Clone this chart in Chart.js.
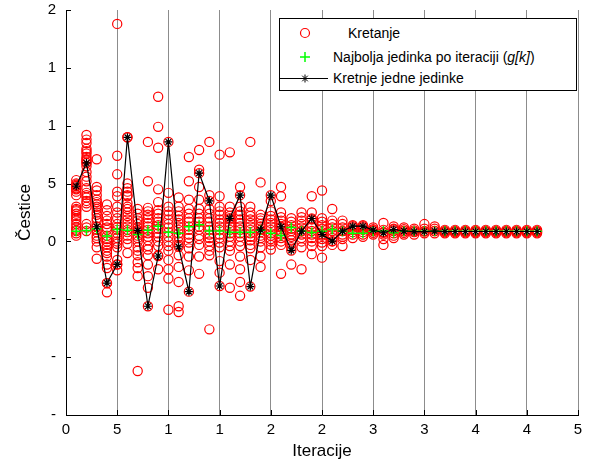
<!DOCTYPE html>
<html>
<head>
<meta charset="utf-8">
<script src="https://cdn.jsdelivr.net/npm/chart.js@4/dist/chart.umd.min.js"></script>
<style>
  body { margin: 0; background: #fff; }
  #wrap { position: relative; width: 595px; height: 468px; font-family: "Liberation Sans", Arial, sans-serif; }
  #legend { position: absolute; left: 279px; top: 18px; width: 296px; height: 71px; border: 1px solid #000; background: #fff; font-size: 14px; color: #000; }
  #legend .row { position: absolute; left: 0; width: 100%; height: 20px; }
  #legend svg { position: absolute; left: 0; top: 0; }
  #legend span { position: absolute; top: 0; line-height: 20px; white-space: nowrap; }
</style>
</head>
<body>
<div id="wrap">
  <canvas id="chart" width="595" height="468"></canvas>
  <div id="legend">
    <div class="row" style="top:4px">
      <svg width="60" height="20"><circle cx="25" cy="10" r="4.5" fill="none" stroke="#ff0000" stroke-width="1.2"/></svg>
      <span style="left:68px">Kretanje</span>
    </div>
    <div class="row" style="top:28px">
      <svg width="60" height="20"><path d="M20 10H30M25 5V15" stroke="#00ff00" stroke-width="1.5"/></svg>
      <span style="left:53px">Najbolja jedinka po iteraciji (<i>g[k]</i>)</span>
    </div>
    <div class="row" style="top:49px">
      <svg width="60" height="20"><path d="M0 10.5H48M25 6.5V14.5M21 10.5H29M22.2 7.7L27.8 13.3M27.8 7.7L22.2 13.3" stroke="#000" stroke-width="1" fill="none"/></svg>
      <span style="left:53px">Kretnje jedne jedinke</span>
    </div>
  </div>
</div>
<script>
// iterations 1..46
const iteracije = [1, 2, 3, 4, 5, 6, 7, 8, 9, 10, 11, 12, 13, 14, 15, 16, 17, 18, 19, 20,
  21, 22, 23, 24, 25, 26, 27, 28, 29, 30, 31, 32, 33, 34, 35, 36, 37, 38, 39, 40,
  41, 42, 43, 44, 45, 46];

// swarm positions per iteration (red circles)
const kretanje = [
  [5.3, 5.0, 4.9, 4.8, 4.6, 4.5, 4.3, 4.0, 3.0, 2.8, 2.7, 2.6, 2.4, 2.2, 2.0, 1.8, 1.5, 1.2, 1.0, 0.9, 0.7, 0.5],
  [9.2, 8.8, 8.5, 8.0, 7.8, 7.6, 7.3, 7.1, 7.0, 6.8, 6.5, 6.0, 5.6, 5.2, 4.6, 4.2, 4.0, 3.8, 3.5, 3.3, 3.0, 1.5, 1.2, 0.9],
  [7.1, 4.7, 4.4, 4.0, 3.6, 3.4, 3.2, 3.0, 2.8, 2.5, 2.3, 2.0, 1.8, 1.3, 1.0, 0.8, 0.5, 0.3, 0.0, -0.5, -1.5],
  [3.2, 2.7, 2.2, 1.8, 1.5, 1.2, 1.0, 0.5, 0.2, 0.0, -0.3, -0.5, -0.8, -1.0, -1.3, -2.0, -2.3, -3.6, -4.4],
  [18.8, 7.4, 5.8, 4.3, 3.9, 3.0, 2.5, 2.0, 1.5, 1.2, 1.0, 0.7, 0.3, 0.0, -0.2, -0.5, -1.6, -2.0, -2.5],
  [9.0, 5.0, 4.6, 4.3, 4.0, 3.9, 3.3, 3.0, 2.8, 2.5, 2.2, 1.9, 1.6, 1.3, 1.0, 0.8, 0.5, 0.2, -0.2, -1.0],
  [2.8, 2.4, 2.0, 1.8, 1.5, 1.2, 1.0, 0.8, 0.5, 0.3, 0.0, -0.5, -0.8, -1.2, -1.8, -2.3, -3.0, -11.2],
  [8.6, 5.2, 2.9, 2.6, 2.3, 2.0, 1.6, 1.3, 1.0, 0.7, 0.4, 0.1, -0.4, -0.7, -1.2, -2.0, -3.0, -4.0],
  [12.5, 9.9, 8.1, 4.5, 3.4, 2.7, 2.4, 2.0, 1.7, 1.4, 1.1, 0.7, 0.4, 0.0, -0.4, -1.2, -2.4],
  [4.2, 3.0, 2.6, 2.3, 1.9, 1.5, 1.2, 0.8, 0.4, 0.0, -0.4, -0.8, -1.6, -2.4, -3.2, -5.9],
  [3.8, 3.0, 2.6, 2.2, 1.9, 1.6, 1.3, 1.0, 0.7, 0.4, 0.0, -0.3, -1.2, -2.2, -3.5, -5.6, -6.1],
  [7.3, 5.2, 3.6, 2.8, 2.4, 2.0, 1.7, 1.3, 1.0, 0.6, 0.3, -0.1, -0.6, -1.3, -2.5],
  [7.9, 6.2, 4.7, 3.6, 2.8, 2.4, 2.0, 1.7, 1.3, 1.0, 0.5, 0.2, -0.3, -1.3, -2.8],
  [8.6, 4.0, 2.8, 2.4, 2.0, 1.7, 1.3, 1.0, 0.6, 0.3, 0.0, -0.4, -0.8, -1.2, -7.6],
  [7.5, 3.9, 3.0, 2.6, 2.3, 1.9, 1.6, 1.3, 1.0, 0.6, 0.3, -0.1, -0.5, -1.7, -2.7],
  [7.7, 3.0, 2.5, 2.2, 1.9, 1.6, 1.3, 1.0, 0.7, 0.4, 0.0, -0.4, -0.8, -2.0, -4.0],
  [4.7, 3.0, 2.6, 2.3, 1.9, 1.6, 1.3, 1.0, 0.7, 0.4, 0.0, -0.4, -1.3, -2.4, -3.5, -4.7],
  [8.6, 3.0, 2.5, 2.2, 1.9, 1.6, 1.3, 1.0, 0.7, 0.4, 0.1, -0.3, -0.6, -1.6],
  [5.1, 2.3, 2.0, 1.8, 1.5, 1.3, 1.0, 0.8, 0.5, 0.3, 0.0, -0.5, -1.3, -2.2],
  [3.5, 2.6, 2.2, 1.9, 1.6, 1.3, 1.0, 0.7, 0.5, 0.2, 0.0, -0.3, -0.7],
  [4.7, 3.9, 2.5, 2.1, 1.8, 1.5, 1.2, 0.9, 0.6, 0.3, 0.0, -0.3, -2.8],
  [2.0, 1.7, 1.4, 1.1, 0.9, 0.6, 0.4, 0.1, -0.2, -0.5, -2.0],
  [2.5, 2.1, 1.8, 1.5, 1.2, 0.9, 0.6, 0.3, 0.0, -0.5, -2.4],
  [3.9, 2.5, 1.9, 1.5, 1.2, 0.9, 0.6, 0.3, 0.0, -0.4, -1.1],
  [4.4, 2.0, 1.7, 1.4, 1.1, 0.8, 0.5, 0.2, -0.1, -0.4, -1.4],
  [2.8, 1.8, 1.5, 1.2, 0.9, 0.6, 0.3, 0.0, -0.3],
  [1.8, 1.5, 1.2, 0.9, 0.6, 0.4, 0.2, -0.4],
  [1.4, 1.2, 1.0, 0.8, 0.6, 0.3],
  [1.4, 1.2, 1.0, 0.8, 0.6, 0.4],
  [1.2, 1.05, 0.9, 0.75, 0.6],
  [1.6, 1.0, 0.8, 0.6, 0.2, -0.3],
  [1.3, 1.1, 0.9, 0.7, 0.5, 0.3],
  [1.2, 1.05, 0.9, 0.75, 0.6],
  [1.1, 0.95, 0.8, 0.6],
  [1.5, 1.1, 0.9, 0.7],
  [1.3, 1.1, 0.9, 0.7],
  [1.0, 0.9, 0.8, 0.7],
  [1.0, 0.9, 0.8, 0.7],
  [1.0, 0.9, 0.8, 0.7],
  [1.0, 0.9, 0.8, 0.7],
  [1.0, 0.9, 0.8, 0.7],
  [1.0, 0.9, 0.8, 0.7],
  [1.0, 0.9, 0.8, 0.7],
  [1.0, 0.9, 0.8, 0.7],
  [1.0, 0.9, 0.8, 0.7],
  [1.0, 0.9, 0.8, 0.7]
];

// best individual per iteration g[k] (green +)
const najbolja = [0.89, 0.95, 1.1, 0.46, 1.03, 0.97, 0.6, 0.97, 1.32, 0.8,
  0.7, 1.26, 1.45, 0.9, 0.9, 0.8, 0.8, 0.8, 0.97, 0.7,
  0.52, 1.2, 0.9, 0.77, 0.89, 1.03, 0.89, 0.7, 0.7, 0.89,
  0.9, 0.75, 0.88, 0.88, 0.88, 0.88, 0.88, 0.88, 0.88, 0.88,
  0.88, 0.88, 0.88, 0.88, 0.88, 0.88];

// path of a single individual (black line with *)
const jedinka = [4.77, 6.78, 1.27, -3.6, -1.98, 9.0, 0.95, -5.6, -1.26, 8.6,
  -0.46, -4.34, 5.9, 3.5, -3.85, 2.0, 4.0, -3.9, 1.0, 4.0,
  1.27, -0.78, 0.89, 1.98, 0.6, 0.03, 0.89, 1.32, 1.32, 0.98,
  0.75, 1.03, 0.9, 0.85, 0.85, 0.9, 0.85, 0.86, 0.86, 0.86,
  0.86, 0.86, 0.86, 0.86, 0.86, 0.86];

const xTickVals = [0, 5, 10, 15, 20, 25, 30, 35, 40, 45, 50];
const xTickLabels = ['0', '5', '1', '1', '2', '2', '3', '3', '4', '4', '5'];
const yTickVals = [-15, -10, -5, 0, 5, 10, 15, 20];
const yTickLabels = ['-', '-', '-', '0', '5', '1', '1', '2'];

const FONT = '"Liberation Sans", Arial, sans-serif';

// red points: every swarm member, plus the tracked individual itself
const redPts = [];
iteracije.forEach((k, i) => {
  kretanje[i].forEach(v => redPts.push({ x: k, y: v }));
  redPts.push({ x: k, y: jedinka[i] });
});

// MATLAB style ticks pointing into the plot
const innerTicks = {
  id: 'innerTicks',
  beforeDatasetsDraw(chart) {
    const { ctx, chartArea: a, scales: { x, y } } = chart;
    ctx.save();
    ctx.strokeStyle = '#000';
    ctx.lineWidth = 1;
    ctx.beginPath();
    xTickVals.forEach(v => {
      const px = Math.round(x.getPixelForValue(v)) + 0.5;
      ctx.moveTo(px, a.bottom);
      ctx.lineTo(px, a.bottom - 5);
    });
    yTickVals.forEach(v => {
      const py = Math.round(y.getPixelForValue(v)) + 0.5;
      ctx.moveTo(a.left, py);
      ctx.lineTo(a.left + 5, py);
    });
    ctx.stroke();
    ctx.restore();
  }
};

new Chart(document.getElementById('chart'), {
  type: 'scatter',
  data: {
    datasets: [
      {
        label: 'Kretanje',
        data: redPts,
        pointStyle: 'circle',
        pointRadius: 4.6,
        pointBorderColor: '#ff0000',
        pointBackgroundColor: 'rgba(0,0,0,0)',
        pointBorderWidth: 1.2,
        showLine: false,
        order: 3
      },
      {
        label: 'Najbolja jedinka po iteraciji (g[k])',
        data: iteracije.map((k, i) => ({ x: k, y: najbolja[i] })),
        pointStyle: 'cross',
        pointRadius: 5,
        pointBorderColor: '#00ff00',
        pointBorderWidth: 1.5,
        showLine: false,
        order: 2
      },
      {
        label: 'Kretnje jedne jedinke',
        data: iteracije.map((k, i) => ({ x: k, y: jedinka[i] })),
        showLine: true,
        borderColor: '#000',
        borderWidth: 1.2,
        pointStyle: 'star',
        pointRadius: 4,
        pointBorderColor: '#000',
        pointBorderWidth: 1.2,
        order: 1
      }
    ]
  },
  options: {
    responsive: false,
    animation: false,
    layout: { padding: { top: 10, right: 17, left: 0, bottom: 0 } },
    plugins: { legend: { display: false }, tooltip: { enabled: false } },
    scales: {
      x: {
        type: 'linear',
        min: 0,
        max: 50,
        afterBuildTicks: s => { s.ticks = xTickVals.map(v => ({ value: v })); },
        afterFit: s => { s.height = 53; s.paddingLeft = 0; s.paddingRight = 0; },
        ticks: {
          callback: v => xTickLabels[xTickVals.indexOf(v)],
          font: { family: FONT, size: 15 },
          color: '#000',
          padding: 6,
          maxRotation: 0,
          autoSkip: false
        },
        grid: { color: '#8c8c8c', lineWidth: 1, drawTicks: false },
        border: { color: '#000', width: 1 },
        title: {
          display: true,
          text: 'Iteracije',
          color: '#000',
          font: { family: FONT, size: 17 },
          padding: { top: 4, bottom: 6 }
        }
      },
      y: {
        type: 'linear',
        min: -15,
        max: 20,
        afterBuildTicks: s => { s.ticks = yTickVals.map(v => ({ value: v })); },
        afterFit: s => { s.width = 66; s.paddingTop = 0; s.paddingBottom = 0; },
        ticks: {
          callback: v => yTickLabels[yTickVals.indexOf(v)],
          font: { family: FONT, size: 15 },
          color: '#000',
          padding: 10,
          autoSkip: false
        },
        grid: { drawOnChartArea: false, drawTicks: false },
        border: { color: '#000', width: 1 },
        title: {
          display: true,
          text: 'Čestice',
          color: '#000',
          font: { family: FONT, size: 17 },
          padding: { top: 15, bottom: 0 }
        }
      }
    }
  },
  plugins: [innerTicks]
});
</script>
</body>
</html>
